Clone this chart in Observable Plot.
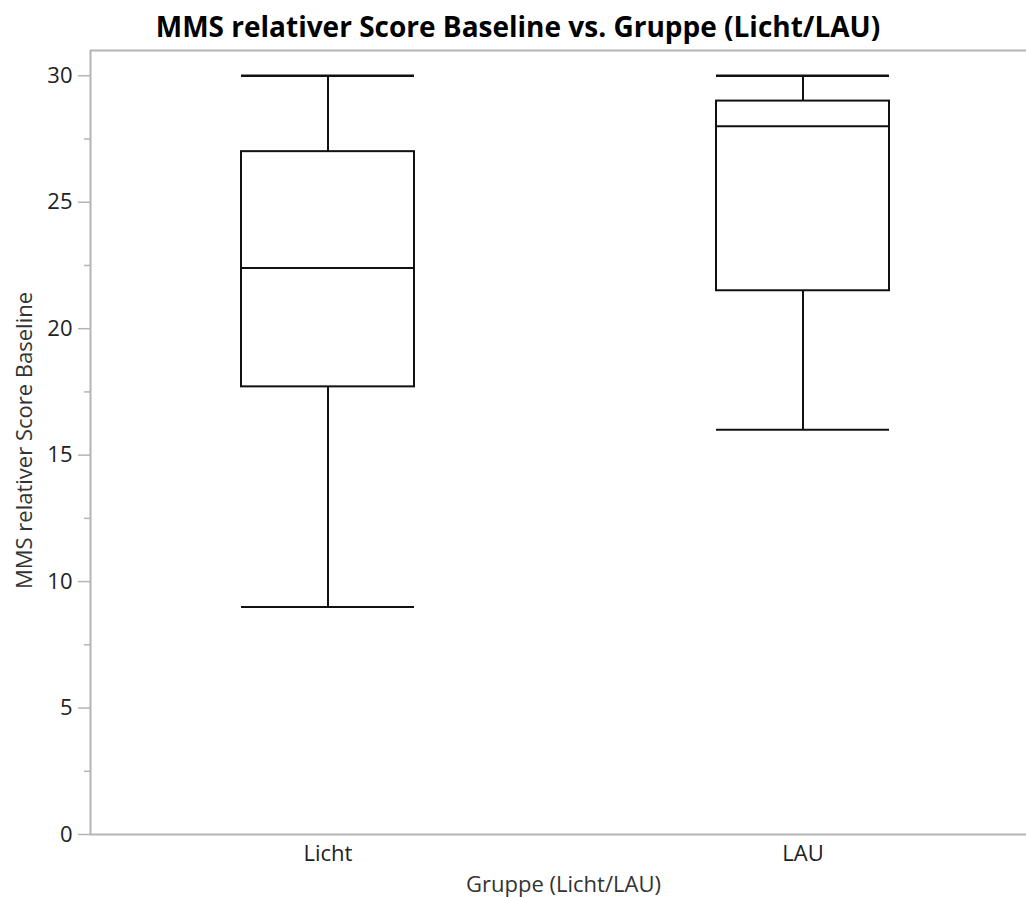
<!DOCTYPE html>
<html>
<head>
<meta charset="utf-8">
<script src="https://cdn.jsdelivr.net/npm/d3@7"></script>
<script src="https://cdn.jsdelivr.net/npm/@observablehq/plot@0.6"></script>
<style>
  html, body { margin: 0; padding: 0; background: #fff; overflow: hidden; }
  #title { height: 45px; width: 1026px; padding-top: 7px; padding-left: 10px; box-sizing: border-box; text-align: center; font-family: "Open Sans", sans-serif; font-weight: 700; font-size: 28px; line-height: 38px; color: #000; white-space: nowrap; }
  #chart { width: 1040px; }
  #chart svg { display: block; max-width: none !important; }
</style>
</head>
<body>
<div id="title">MMS relativer Score Baseline vs. Gruppe (Licht/LAU)</div>
<div id="chart"></div>
<script>
const groups = ["Licht", "LAU"];
const minimum = [9, 16];
const q1 = [17.7, 21.5];
const median = [22.4, 28];
const q3 = [27, 29];
const maximum = [30, 30];
const majorTicks = [0, 5, 10, 15, 20, 25, 30];
const minorTicks = [2.5, 7.5, 12.5, 17.5, 22.5, 27.5];

const data = groups.map((g, i) => ({group: g, min: minimum[i], q1: q1[i], median: median[i], q3: q3[i], max: maximum[i]}));

const axisGray = "#b4b4b4";
const font = "'Open Sans', sans-serif";

const plot = Plot.plot({
  width: 1040,
  height: 852,
  marginTop: 5,
  marginBottom: 63,
  marginLeft: 90,
  marginRight: 0,
  style: {fontFamily: font, fontSize: "22px", color: "#222", background: "#fff", overflow: "visible", maxWidth: "none"},
  x: {type: "band", domain: groups, paddingInner: 0.636, paddingOuter: 0.318, label: null},
  y: {domain: [0, 31], label: null},
  marks: [
    Plot.frame({stroke: axisGray, strokeWidth: 2}),
    Plot.axisY(minorTicks, {tickSize: 6, text: null, stroke: axisGray, strokeWidth: 1.5, label: null}),
    Plot.axisY(majorTicks, {tickSize: 12, tickPadding: 6, stroke: axisGray, strokeWidth: 1.5, fill: "#222", fontSize: 22, label: null}),
    Plot.axisX({tickSize: 0, tickPadding: 11, fontSize: 22, fill: "#222", label: null}),
    Plot.text(["MMS relativer Score Baseline"], {frameAnchor: "left", textAnchor: "middle", dx: -66, dy: -2, rotate: -90, fontSize: 22, fill: "#333", text: d => d}),
    Plot.text(["Gruppe (Licht/LAU)"], {frameAnchor: "bottom", lineAnchor: "top", dy: 42, dx: -2, fontSize: 22, fill: "#333", text: d => d}),
    Plot.ruleX(data, {x: "group", y1: "q3", y2: "max", stroke: "#111", strokeWidth: 2}),
    Plot.ruleX(data, {x: "group", y1: "min", y2: "q1", stroke: "#111", strokeWidth: 2}),
    Plot.barY(data, {x: "group", y1: "q1", y2: "q3", fill: "white", stroke: "#111", strokeWidth: 2}),
    Plot.tickY(data, {x: "group", y: "median", stroke: "#111", strokeWidth: 2}),
    Plot.tickY(data, {x: "group", y: "max", stroke: "#111", strokeWidth: 2.5}),
    Plot.tickY(data, {x: "group", y: "min", stroke: "#111", strokeWidth: 2})
  ]
});
plot.style.maxWidth = "none";
plot.style.width = "1040px";
plot.style.height = "852px";
document.getElementById("chart").appendChild(plot);
</script>
</body>
</html>
